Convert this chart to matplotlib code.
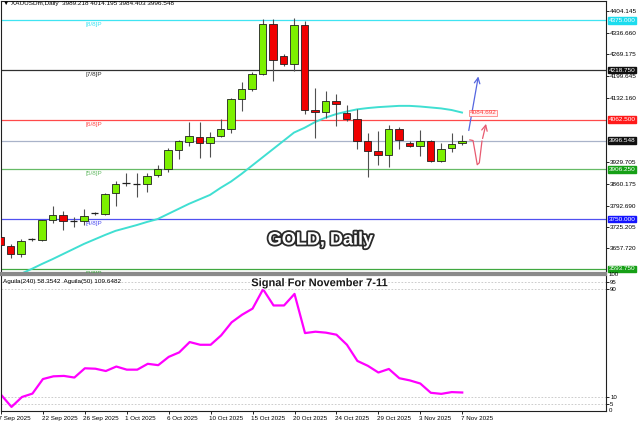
import matplotlib
matplotlib.use('Agg')
import matplotlib.pyplot as plt
import matplotlib.patheffects as pe
from matplotlib import transforms
import numpy as np

plt.rcParams['font.family'] = ['Liberation Sans', 'DejaVu Sans']

# XAUUSDm daily bars, 17 Sep - 7 Nov 2025
opens = [3694, 3666, 3639, 3686, 3684, 3746, 3762, 3745, 3744, 3767,
         3766, 3831, 3861, 3862, 3861, 3889, 3908, 3968, 3993, 4009,
         3988, 4012, 4034, 4128, 4160, 4207, 4363, 4263, 4237, 4360,
         4093, 4086, 4121, 4083, 4064, 3997, 3965, 3952, 4034, 3989,
         3980, 3996, 3934, 3973, 3989.218]
highs = [3700, 3672, 3688, 3690, 3748, 3791, 3775, 3758, 3783, 3772,
         3833, 3870, 3894, 3896, 3894, 3920, 3975, 4000, 4056, 4056,
         4023, 4064, 4130, 4181, 4213, 4378, 4378, 4268, 4381, 4373,
         4161, 4154, 4143, 4110, 4096, 4020, 4028, 4045, 4040, 3997,
         4030, 3999, 3990, 4020, 4014.195]
lows = [3660, 3628, 3631, 3682, 3682, 3738, 3716, 3726, 3732, 3764,
        3764, 3791, 3854, 3819, 3836, 3883, 3899, 3939, 3981, 3942,
        3946, 4009, 4022, 4090, 4152, 4203, 4184, 4231, 4216, 4080,
        4004, 4067, 4044, 4059, 3970, 3883, 3920, 3913, 3970, 3977,
        3948, 3929, 3930, 3962, 3984.403]
closes = [3669, 3640, 3682, 3687, 3746, 3762, 3743, 3744, 3759, 3768,
          3830, 3861, 3862, 3861, 3886, 3908, 3968, 3994, 4010, 3988,
          4009, 4034, 4128, 4160, 4207, 4364, 4250, 4237, 4360, 4093,
          4087, 4121, 4113, 4064, 3997, 3965, 3952, 4034, 3999, 3980,
          3996, 3934, 3971, 3987, 3996.548]
# moving average (turquoise)
ma = [3546, 3562, 3578, 3593, 3609, 3624, 3640, 3656, 3672, 3686,
      3700, 3713, 3722, 3731, 3741, 3750, 3766, 3782, 3798, 3812,
      3826, 3848, 3868, 3892, 3918, 3944, 3970, 3996, 4022, 4037,
      4055, 4069, 4080, 4088, 4095, 4099, 4102, 4104, 4106, 4106,
      4104, 4101, 4098, 4093, 4085]
# Aguila oscillator
aguila = [12, 3, 10.3, 12.8, 23.5, 25.5, 25.8, 24.6, 31.4, 31.1,
          29.4, 32.7, 30.4, 30.4, 34.7, 33.7, 39.8, 43.1, 50.7, 48.7,
          48.7, 55.6, 65.2, 70.8, 75.3, 89.5, 77.6, 77.6, 86.1, 57.3,
          58.3, 57.6, 56.1, 48.7, 36.8, 33.2, 28.3, 30.9, 24.1, 22.5,
          20.2, 13.4, 12.6, 13.9, 13.6]

date_labels = ['17 Sep 2025', '22 Sep 2025', '26 Sep 2025', '1 Oct 2025',
               '6 Oct 2025', '10 Oct 2025', '15 Oct 2025', '20 Oct 2025',
               '24 Oct 2025', '29 Oct 2025', '3 Nov 2025', '7 Nov 2025']
label_bars = list(range(0, 45, 4))

murray_levels = [4375.0, 4218.75, 4062.5, 3906.25, 3750.0, 3593.75]
murray_names = ['[8/8]P', '[7/8]P', '[6/8]P', '[5/8]P', '[4/8]P', '[3/8]P']
line_colors = ['#3FE4F2', '#303030', '#FF4A4A', '#66BB66', '#5050F0', '#40A840']
box_colors = ['#1CDCEE', '#101010', '#FF1A1A', '#16A016', '#1414FF', '#16A016']
last_price = 3996.548
ma_last = 4084.692
price_ticks = [4404.145, 4336.660, 4269.175, 4199.645, 4132.160,
               3929.705, 3860.175, 3792.690, 3725.205, 3657.720]
osc_levels = [95, 90, 10, 5]

W, H = 640, 426
fig = plt.figure(figsize=(6.4, 4.26), dpi=100)
ax = fig.add_axes([1 / W, 1 - 273 / H, 605 / W, 272 / H])
ax2 = fig.add_axes([1 / W, 1 - 411 / H, 605 / W, 136 / H])

step = 10.5  # pixels per bar
x = np.arange(len(closes))
o, h, l, c = (np.array(v, dtype=float) for v in (opens, highs, lows, closes))

# main chart
ax.set_xlim(1 / step, 606 / step)
ax.set_ylim(3580.5, 4435.7)

for lev, name, col in zip(murray_levels, murray_names, line_colors):
    ax.axhline(lev, color=col, lw=0.9, zorder=1)
    ax.annotate(name, (8.1, lev), xytext=(0, -1.5), textcoords='offset points',
                color=col, fontsize=4.6, va='top', ha='left', clip_on=True)
ax.axhline(last_price, color='#A9B3C9', lw=0.9, zorder=1)

ax.plot(x, ma, color='#40DFD2', lw=1.4, zorder=2)

up = c >= o
body = np.abs(c - o)
flat = body < 3
ax.vlines(x, l, h, color='#505050', lw=0.8, zorder=3)
ax.bar(x[~flat], body[~flat], bottom=np.minimum(o, c)[~flat], width=0.68,
       color=np.where(up, '#7CF000', '#F00000')[~flat],
       edgecolor='#202020', lw=0.6, zorder=4)
ax.hlines(c[flat], x[flat] - 0.34, x[flat] + 0.34, color='#202020', lw=0.9, zorder=4)

ax.text(44.75, ma_last, f'{ma_last:.3f}', fontsize=4.6, color='#FF3C3C',
        va='center', ha='left', zorder=6,
        bbox=dict(fc='#FFF2F2', ec='#FF6A6A', lw=0.5, pad=0.4))

# projected path arrows
ax.annotate('', xy=(45.6, 4207), xytext=(44.6, 4020),
            arrowprops=dict(arrowstyle='->', color='#5566E0', lw=0.9))
ax.plot([44.75, 45.05, 45.25, 45.45, 45.65, 45.9],
        [3999, 3997, 3960, 3921, 3927, 3995], color='#E85A70', lw=0.9)
ax.annotate('', xy=(46.35, 4058), xytext=(45.9, 3995),
            arrowprops=dict(arrowstyle='->', color='#E85A70', lw=0.9))

ax.text(30.5, 3684, 'GOLD, Daily', fontsize=13, fontweight='bold', color='white',
        ha='center', va='center', zorder=7,
        path_effects=[pe.withStroke(linewidth=2.6, foreground='#2A2A2A')])

ax.yaxis.tick_right()
ax.set_yticks(price_ticks)
ax.set_yticklabels([f'{v:.3f}' for v in price_ticks])
ax.tick_params(axis='y', labelsize=4.6, length=2, pad=1, width=0.6)
ax.set_xticks([])
ytr = ax.get_yaxis_transform()
for lev, bc in zip(murray_levels + [last_price], box_colors + ['#101010']):
    ax.text(1.004, lev, f'{lev:.3f}', transform=ytr, fontsize=4.6, color='white',
            va='center', ha='left', clip_on=False,
            bbox=dict(fc=bc, ec=bc, pad=0.5))
for sp in ax.spines.values():
    sp.set_color('#202020')
    sp.set_linewidth(0.8)
ax.spines['bottom'].set_color('#8A8A8A')
ax.spines['bottom'].set_linewidth(1.6)

# indicator panel
ax2.set_xlim(1 / step, 606 / step)
ax2.set_ylim(0, 100)
for lev in osc_levels:
    ax2.axhline(lev, color='#C4C4C4', lw=0.6, ls=(0, (2, 2)))
ax2.plot(x, aguila, color='#FF00FF', lw=1.6)
ax2.text(0.004, 0.955, 'Aguila(240) 58.3542  Aguila(50) 109.6482',
         transform=ax2.transAxes, fontsize=4.6, va='center', ha='left')
ax2.text(30.4, 94, 'Signal For November 7-11', fontsize=8, fontweight='bold',
         color='#1A1A1A', ha='center', va='center',
         path_effects=[pe.withStroke(linewidth=1.5, foreground='white')])

ax2.yaxis.tick_right()
ax2.set_yticks(osc_levels)
ax2.set_yticklabels([str(v) for v in osc_levels])
ax2.tick_params(axis='y', labelsize=4.4, length=2, pad=1, width=0.6)
ax2.text(1.004, 1.0, '100', transform=ax2.transAxes, fontsize=4.4,
         va='center', ha='left', clip_on=False)
ax2.text(1.004, 0.0, '0', transform=ax2.transAxes, fontsize=4.4,
         va='center', ha='left', clip_on=False)

ax2.set_xticks(label_bars)
ax2.set_xticklabels(date_labels)
ax2.tick_params(axis='x', labelsize=4.5, length=2, pad=1.5, width=0.6)
for i, lab in enumerate(ax2.get_xticklabels()):
    dx = -4 / 72 if i == 0 else -1 / 72
    lab.set_ha('left')
    lab.set_transform(lab.get_transform() +
                      transforms.ScaledTranslation(dx, 0, fig.dpi_scale_trans))
for sp in ax2.spines.values():
    sp.set_color('#202020')
    sp.set_linewidth(0.8)
ax2.spines['top'].set_color('#8A8A8A')
ax2.spines['top'].set_linewidth(1.6)

fig.text(3 / W, 1 - 3.5 / H,
         '\u25bc XAUUSDm,Daily  3989.218 4014.195 3984.403 3996.548',
         fontsize=4.6, va='center', ha='left')

fig.savefig('out.png', dpi=100)
